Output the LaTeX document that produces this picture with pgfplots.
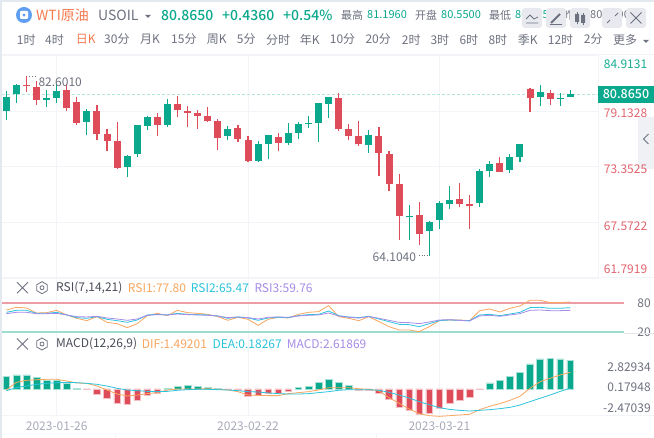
\documentclass[border=0pt]{standalone}
\usepackage{fontspec}
\setmainfont{Noto Sans CJK SC}
\newfontface\med{Noto Sans CJK SC Medium}
\usepackage{pgfplots}
\usepackage{pgfplotstable}
\pgfplotsset{compat=1.18}
\definecolor{up}{HTML}{0AA88C}
\definecolor{down}{HTML}{DE4C5A}
\definecolor{lblred}{HTML}{E2646F}
\definecolor{lblgreen}{HTML}{14AC90}
\definecolor{txt}{HTML}{6E7280}
\definecolor{dark}{HTML}{4A4E5A}
\definecolor{hl}{HTML}{F47A50}
\definecolor{soft}{HTML}{A9ABBA}
\definecolor{gridc}{HTML}{F3F4F7}
\definecolor{band}{HTML}{E4E8EF}
\definecolor{btn}{HTML}{E7E9EF}
\definecolor{ora}{HTML}{F9A65F}
\definecolor{cya}{HTML}{2CC3DC}
\definecolor{pur}{HTML}{A68CE8}

% i low bot top high
\pgfplotstableread{
i low bot top high
0 78.19 79.13 80.59 81.25
1 80.00 80.90 81.84 81.94
4 79.55 80.31 80.48 81.32
5 80.00 80.48 81.21 81.94
8 76.63 77.98 79.13 79.34
12 72.25 73.30 74.44 74.55
13 74.34 74.65 77.67 77.67
14 77.15 77.57 78.50 78.61
16 77.46 77.67 79.86 80.38
22 76.11 76.52 77.25 77.57
25 73.82 73.92 75.69 76.00
26 74.13 75.69 76.63 76.63
28 75.59 75.80 76.84 77.88
29 76.21 76.84 77.77 77.98
30 77.36 77.77 77.91 78.61
31 75.90 77.88 79.96 79.96
32 78.40 79.86 80.59 80.62
36 74.79 75.59 76.63 77.15
40 65.69 68.12 68.19 69.34
42 64.10 66.63 67.57 67.71
43 66.84 67.78 69.55 69.75
44 68.92 69.44 69.86 71.32
47 69.13 69.55 72.88 73.09
48 72.25 72.88 73.61 73.92
50 72.67 72.98 74.34 74.65
51 73.82 74.34 75.69 75.69
53 79.65 80.59 81.11 81.84
55 79.65 80.41 80.48 80.97
56 80.59 80.59 80.90 81.32
}\upcandles
\pgfplotstableread{
i low bot top high
2 81.14 81.73 81.84 82.77
3 79.75 80.27 81.63 82.25
6 79.13 79.44 81.32 81.94
7 77.67 77.88 80.07 80.59
9 76.11 76.73 79.13 79.75
10 74.96 76.00 76.73 77.25
11 73.09 73.19 76.00 77.98
15 76.52 77.67 78.50 78.92
17 78.50 79.23 79.86 80.69
18 77.46 78.92 79.13 79.65
19 77.25 78.64 78.92 79.23
20 77.98 78.09 78.61 79.54
21 75.07 76.32 78.09 78.29
23 75.90 76.21 77.36 77.67
24 73.82 73.92 76.11 76.52
27 74.96 75.80 76.42 76.84
33 77.05 77.25 80.48 80.97
34 76.11 76.52 77.25 77.77
35 75.48 75.69 76.52 78.09
37 72.36 74.79 76.52 77.46
38 70.79 71.52 74.65 74.96
39 65.69 68.19 71.52 72.57
41 65.17 66.32 68.30 69.65
45 69.13 69.44 69.96 71.63
46 66.84 69.23 69.44 70.38
49 72.77 72.77 73.71 74.34
52 79.03 80.48 81.42 81.52
54 79.75 80.38 81.00 81.32
}\downcandles

\pgfplotstableread{
i r1 r2 r3
0 66.0 61.1 58.3
1 71.6 65.3 61.1
2 70.2 65.3 61.1
3 59.7 59.0 58.3
4 60.4 59.0 58.3
5 65.3 61.1 59.0
6 55.6 55.6 55.6
7 48.6 50.0 52.1
8 43.7 48.6 51.4
9 52.1 52.1 52.8
10 40.2 46.5 49.3
11 37.4 43.7 47.2
12 29.1 40.2 44.4
13 37.4 45.1 47.2
14 54.2 55.6 54.9
15 59.0 56.9 56.3
16 54.2 55.6 55.6
17 65.3 59.0 57.6
18 60.4 56.9 56.3
19 59.0 56.3 55.6
20 56.9 55.6 54.9
21 52.1 53.5 53.5
22 44.4 48.6 50.0
23 50.7 51.4 51.4
24 46.5 49.3 50.0
25 33.9 44.4 47.2
26 46.5 49.3 50.7
27 50.7 50.7 51.4
28 49.3 50.0 50.7
29 56.9 54.2 53.5
30 61.1 56.3 54.9
31 62.6 56.9 55.6
32 75.1 63.9 59.7
33 52.1 54.2 53.5
34 48.6 51.4 50.7
35 43.7 50.0 49.3
36 52.1 52.8 52.1
37 41.6 47.2 48.6
38 31.2 41.6 44.4
39 24.2 36.0 40.2
40 24.2 35.3 39.5
41 20.7 31.2 37.4
42 31.2 37.4 40.9
43 43.7 43.7 45.1
44 45.1 45.1 45.8
45 45.1 44.4 44.4
46 43.7 43.7 43.0
47 64.6 55.6 53.5
48 68.1 56.9 54.9
49 61.8 54.2 52.8
50 69.5 57.6 55.6
51 74.4 61.1 58.3
52 86.2 70.9 65.3
53 86.2 71.6 66.0
54 81.4 69.5 64.6
55 81.4 69.5 64.6
56 82.8 70.9 65.3
}\rsitable

\pgfplotstableread{
i dif dea
0 -0.13 -0.22
1 0.87 0.17
2 1.14 0.39
3 1.22 0.61
4 1.27 0.74
5 1.27 0.83
6 1.05 0.87
7 0.79 0.83
8 0.74 0.74
9 0.39 0.61
10 -0.13 0.39
11 -0.66 0.09
12 -0.92 -0.13
13 -0.79 -0.22
14 -0.61 -0.31
15 -0.48 -0.35
16 -0.13 -0.31
17 0 -0.17
18 0 -0.09
19 0 -0.04
20 0.04 -0.04
21 -0.04 -0.09
22 -0.13 -0.13
23 -0.35 -0.22
24 -0.79 -0.35
25 -0.83 -0.39
26 -0.87 -0.52
27 -0.87 -0.61
28 -0.61 -0.66
29 -0.48 -0.66
30 -0.35 -0.61
31 -0.13 -0.48
32 0.17 -0.35
33 0.17 -0.17
34 0.17 -0.09
35 0.04 -0.09
36 -0.04 -0.09
37 -0.26 -0.17
38 -1.14 -0.44
39 -1.88 -0.79
40 -2.62 -1.18
41 -3.24 -1.66
42 -3.50 -2.06
43 -3.59 -2.45
44 -3.50 -2.67
45 -3.41 -2.80
46 -3.32 -2.89
47 -2.71 -2.80
48 -2.27 -2.71
49 -1.92 -2.58
50 -1.49 -2.41
51 -0.96 -2.10
52 0.09 -1.66
53 0.96 -1.22
54 1.40 -0.79
55 1.84 -0.31
56 2.19 0.09
}\macdtable

\pgfplotstableread{
i v
0 1.62
1 1.84
2 1.84
3 1.49
4 1.14
5 1.09
6 0.70
7 0.09
16 0.13
17 0.35
18 0.44
19 0.39
20 0.26
21 0.04
29 0.17
30 0.31
31 0.87
32 1.27
33 0.87
34 0.44
48 0.79
49 1.14
50 1.66
51 2.19
52 3.28
53 3.94
54 4.02
55 3.94
56 3.76
}\macdup
\pgfplotstableread{
i v
8 -0.04
9 -0.66
10 -1.18
11 -1.88
12 -2.06
13 -1.44
14 -0.79
15 -0.57
22 -0.09
23 -0.17
24 -0.92
25 -0.83
26 -0.57
27 -0.52
28 -0.35
35 -0.13
36 -0.13
37 -0.52
38 -1.31
39 -2.36
40 -2.84
41 -3.32
42 -3.19
43 -2.58
44 -1.92
45 -1.44
46 -1.09
47 -0.09
}\macddown

\newcommand\sz[1]{\fontsize{#1}{#1}\selectfont}
% text at pixel position of the screenshot
\newcommand\lab[5][12]{\node[anchor=west,inner sep=0pt,text=#4,font=\sz{#1}] at (#2pt,438pt-#3pt) {#5};}
\newcommand\xicon[2]{\draw[txt,line width=.8pt] (#1pt-5.5pt,438pt-#2pt-5.5pt) -- (#1pt+5.5pt,438pt-#2pt+5.5pt) (#1pt-5.5pt,438pt-#2pt+5.5pt) -- (#1pt+5.5pt,438pt-#2pt-5.5pt);}
\newcommand\gear[2]{\begin{scope}[shift={(#1pt,438pt-#2pt)}]
\draw[txt,line width=.8pt] (0,6pt)--(5.2pt,3pt)--(5.2pt,-3pt)--(0,-6pt)--(-5.2pt,-3pt)--(-5.2pt,3pt)--cycle;
\draw[txt,line width=.8pt] (0,0) circle (2pt);\end{scope}}
\newcommand\btn[1]{\fill[btn,rounded corners=3pt] (#1pt,438pt-28pt) rectangle (#1pt+20pt,438pt-8pt);}
\newcommand\yl[3]{\smash{\raisebox{#2}{\color{#1}#3}}}

\pgfplotsset{panel/.style={
  scale only axis, width=596.7pt, anchor=south west,
  xmin=-0.43, xmax=58.82,
  axis line style={draw=none}, major tick length=0pt,
  xtick={5,24,43}, xticklabels={}, xmajorgrids,
  grid style={gridc,line width=.9pt},
  ytick pos=right, yticklabel pos=right,
  yticklabel style={anchor=east,xshift=55.5pt,font=\sz{12},text=txt},
},
candle/.style 2 args={draw=none,mark=none,forget plot,error bars/.cd,y dir=plus,y explicit,error mark=none,error bar style={line width=#1,color=#2}}}

\begin{document}
\begin{tikzpicture}
\path[use as bounding box,fill=white] (0,0) rectangle (654pt,438pt);
% page frame and panel separators
\fill[band] (0,0) rectangle (2pt,438pt);
\fill[band] (0,436pt) rectangle (654pt,438pt);
\draw[gridc,line width=1pt] (2pt,438pt-55pt) -- (654pt,438pt-55pt);
\draw[gridc,line width=1pt] (2pt,438pt-278pt) -- (654pt,438pt-278pt);
\draw[gridc,line width=1pt] (2pt,438pt-416pt) -- (654pt,438pt-416pt);
\draw[gridc,line width=1pt] (598.7pt,438pt-55pt) -- (598.7pt,438pt-278pt);
\draw[gridc,line width=1pt] (115pt,0) -- (115pt,5pt) (376pt,0) -- (376pt,5pt);
\fill[gridc!70!btn] (638pt,438pt-169pt) rectangle (654pt,438pt-117pt);
\draw[txt,line width=1pt] (648.5pt,438pt-134pt) -- (643.5pt,438pt-139pt) -- (648.5pt,438pt-144pt);

% header
\fill[cya!60!blue!70!white] (24pt,438pt-15pt) circle (8pt);
\fill[white,rounded corners=1pt] (20pt,438pt-19pt) rectangle (28pt,438pt-11pt);
\fill[cya!60!blue!70!white] (24pt,438pt-15pt) circle (1.6pt);
\lab[14]{36}{15}{hl}{WTI原油}
\lab[14]{98}{15}{txt}{USOIL}
\fill[txt] (145pt,438pt-15pt) -- (151pt,438pt-15pt) -- (148pt,438pt-18pt) -- cycle;
\lab[14]{161}{15}{up}{\med 80.8650}
\lab[14]{222}{15}{up}{\med +0.4360}
\lab[14]{283}{15}{up}{\med +0.54\%}
\lab[11]{341}{15}{txt}{最高}
\lab[11]{367}{15}{up}{81.1960}
\lab[11]{415}{15}{txt}{开盘}
\lab[11]{441}{15}{up}{80.5500}
\lab[11]{489}{15}{txt}{最低}
\lab[11]{515}{15}{up}{80.5650}
\lab[11]{563}{15}{txt}{昨收}
\lab[11]{590}{15}{txt}{80.4290}
\btn{522}\btn{546}\btn{570}\btn{602}\btn{626}
\draw[txt,line width=.8pt] (526pt,438pt-19pt) -- (530pt,438pt-15pt) -- (534pt,438pt-19pt) -- (538pt,438pt-17pt) (526pt,438pt-23pt) -- (538pt,438pt-23pt);
\draw[txt,line width=2pt] (551pt,438pt-23pt) -- (560pt,438pt-14pt);
\draw[txt,line width=.8pt] (550pt,438pt-24pt) -- (562pt,438pt-24pt);
\fill[txt] (575pt,438pt-22pt) rectangle (579pt,438pt-14pt) (581pt,438pt-23pt) rectangle (585pt,438pt-15pt);
\draw[txt,line width=.8pt] (577pt,438pt-24pt) -- (577pt,438pt-12pt) (583pt,438pt-25pt) -- (583pt,438pt-13pt);
\draw[txt,line width=.8pt] (607pt,438pt-23pt) -- (610pt,438pt-20pt) (618pt,438pt-13pt) -- (615pt,438pt-16pt);
\xicon{636}{18}
\lab{16.7}{39.5}{txt}{1时}
\lab{45}{39.5}{txt}{4时}
\lab{75.7}{39.5}{hl}{日K}
\lab{104}{39.5}{txt}{30分}
\lab{140}{39.5}{txt}{月K}
\lab{171}{39.5}{txt}{15分}
\lab{206.7}{39.5}{txt}{周K}
\lab{236.7}{39.5}{txt}{5分}
\lab{266}{39.5}{txt}{分时}
\lab{299.7}{39.5}{txt}{年K}
\lab{329.7}{39.5}{txt}{10分}
\lab{365.3}{39.5}{txt}{20分}
\lab{401.7}{39.5}{txt}{2时}
\lab{430.3}{39.5}{txt}{3时}
\lab{459.3}{39.5}{txt}{6时}
\lab{488.3}{39.5}{txt}{8时}
\lab{517.7}{39.5}{txt}{季K}
\lab{547.7}{39.5}{txt}{12时}
\lab{583.7}{39.5}{txt}{2分}
\lab{613}{39.5}{txt}{更多}
\fill[txt] (643pt,438pt-40pt) -- (649pt,438pt-40pt) -- (646pt,438pt-43pt) -- cycle;

% price panel
\begin{axis}[panel, at={(2pt,160pt)}, height=222.5pt,
  ymin=61.7919, ymax=84.9131,
  ytick={61.7919,67.5722,73.3525,79.1328,84.9131},
  yticklabels={\yl{lblred}{4.4pt}{61.7919},\yl{lblred}{-8pt}{67.5722},\yl{lblred}{-7.1pt}{73.3525},\yl{lblred}{-6.6pt}{79.1328},\yl{lblgreen}{-13.3pt}{84.9131}},
  yticklabel style={xshift=-3.5pt},
  ymajorgrids, clip=false]
\addplot[forget plot,densely dashed,color=up!30,line width=1pt] coordinates {(-0.43,80.865) (58.82,80.865)};
\addplot[candle={1.1pt}{up}]
  table[x=i,y=low,y error plus expr=\thisrow{high}-\thisrow{low},y error minus expr=0] {\upcandles};
\addplot[candle={7pt}{up}]
  table[x=i,y=bot,y error plus expr=\thisrow{top}-\thisrow{bot},y error minus expr=0] {\upcandles};
\addplot[candle={1.1pt}{down}]
  table[x=i,y=low,y error plus expr=\thisrow{high}-\thisrow{low},y error minus expr=0] {\downcandles};
\addplot[candle={7pt}{down}]
  table[x=i,y=bot,y error plus expr=\thisrow{top}-\thisrow{bot},y error minus expr=0] {\downcandles};
\node[anchor=west,inner sep=0pt,text=txt,font=\sz{12}] at (axis cs:3.18,82.17) {82.6010};
\draw[txt,dotted,line width=.6pt] (axis cs:2.3,82.75) -- (axis cs:3.0,82.75);
\node[anchor=east,inner sep=0pt,text=txt,font=\sz{12}] at (axis cs:40.7,63.9) {64.1040};
\draw[txt,dotted,line width=.6pt] (axis cs:41,64.1) -- (axis cs:42,64.1);
\end{axis}
\fill[up] (598pt,438pt-103.3pt) rectangle (654pt,438pt-85.7pt);
\node[text=white,font=\sz{12.5}\med,inner sep=0pt] at (626pt,438pt-94.3pt) {80.8650};

% RSI panel
\begin{axis}[panel, at={(2pt,105pt)}, height=55pt,
  ymin=17.9, ymax=132.9, ytick={20,80}, yticklabels={20,80}, clip=false]
\addplot[color=down!55,line width=1.6pt] coordinates {(-0.43,80) (61.31,80)};
\addplot[color=up!40,line width=1.6pt] coordinates {(-0.43,20) (61.31,20)};
\addplot[color=ora,line width=.8pt] table[x=i,y=r1] {\rsitable};
\addplot[color=cya,line width=.8pt] table[x=i,y=r2] {\rsitable};
\addplot[color=pur,line width=.8pt] table[x=i,y=r3] {\rsitable};
\end{axis}
\draw[gridc!60!txt!40,line width=.8pt] (624pt,438pt-333.4pt) -- (654pt,438pt-333.4pt);
\xicon{22.5}{287.7}\gear{42}{287.7}
\lab{56}{287.7}{dark}{RSI(7,14,21)}
\lab{127.7}{287.7}{ora}{RSI1:77.80}
\lab{190.7}{287.7}{cya}{RSI2:65.47}
\lab{254.3}{287.7}{pur}{RSI3:59.76}

% MACD panel
\begin{axis}[panel, at={(2pt,22pt)}, height=83pt,
  ymin=-3.542, ymax=7.347,
  xticklabels={2023-01-26,2023-02-22,2023-03-21},
  xticklabel style={font=\sz{12},text=soft,yshift=-2pt},
  ytick={-2.47039,0.17948,2.82934}, yticklabels={-2.47039,0.17948,2.82934}, clip=false]
\addplot[ybar,bar shift=0pt,bar width=6.7pt,fill=up,draw=up!35,line width=.5pt] table[x=i,y=v] {\macdup};
\addplot[ybar,bar shift=0pt,bar width=6.7pt,fill=down,draw=down!35,line width=.5pt] table[x=i,y=v] {\macddown};
\addplot[color=ora,line width=.8pt] table[x=i,y=dif] {\macdtable};
\addplot[color=cya,line width=.8pt] table[x=i,y=dea] {\macdtable};
\end{axis}
\xicon{22.5}{344}\gear{42}{344}
\lab{56}{344}{dark}{MACD(12,26,9)}
\lab{141.7}{344}{ora}{DIF:1.49201}
\lab{212.3}{344}{cya}{DEA:0.18267}
\lab{286.7}{344}{pur}{MACD:2.61869}
\end{tikzpicture}
\end{document}
